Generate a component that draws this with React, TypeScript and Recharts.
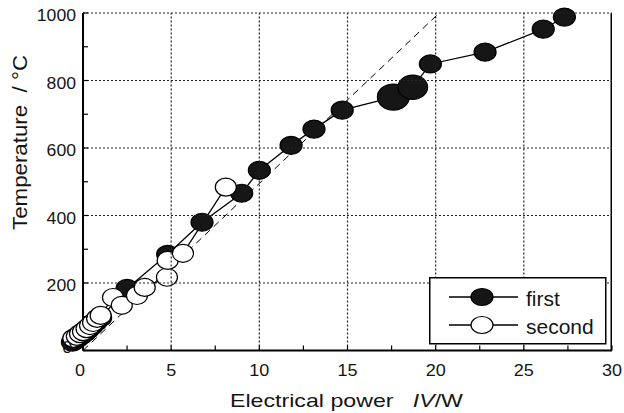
import React from 'react';
import {
  LineChart,
  Line,
  XAxis,
  YAxis,
  ReferenceDot,
  Legend,
} from 'recharts';

// ---- data ----
const firstPower = [-0.6, -0.45, -0.3, -0.1, 0.1, 0.3, 0.5, 0.75, 1.0, 2.5, 4.8, 6.75, 9.0, 10.0, 11.8, 13.1, 14.7, 17.6, 18.7, 19.7, 22.8, 26.1, 27.3];
const firstTemp = [25, 30, 36, 44, 52, 62, 72, 85, 97, 184, 285, 380, 466, 534, 608, 656, 712, 751, 780, 849, 884, 952, 988];
const secondPower = [-0.55, -0.35, -0.17, 0, 0.2, 0.4, 0.57, 0.8, 1.0, 1.7, 2.2, 3.06, 3.5, 4.76, 4.8, 5.67, 8.1];
const secondTemp = [36, 42, 50, 56, 65, 74, 83, 95, 104, 157, 134, 163, 187, 217, 267, 288, 484];
const fitPower = [0, 20.2];
const fitTemp = [0, 1000];
const seriesNames = ['first', 'second'];

const xTicks = [0, 2.5, 5, 7.5, 10, 12.5, 15, 17.5, 20, 22.5, 25, 27.5, 30];
const yTicks = [0, 100, 200, 300, 400, 500, 600, 700, 800, 900, 1000];
const xRange = [0, 30];
const yRange = [0, 1000];
const gridX = [5, 10, 15, 20, 25];
const gridY = [200, 400, 600, 800, 1000];

// marker enlargement (styling) keyed by power value
const enlarged: Record<string, number> = { '17.6': 1.45, '18.7': 1.35 };

const firstData = firstPower.map((x, i) => ({ x, y: firstTemp[i] }));
const secondData = secondPower.map((x, i) => ({ x, y: secondTemp[i] }));
const fitData = fitPower.map((x, i) => ({ x, y: fitTemp[i] }));
const rightFrame = yRange.map((y) => ({ x: xRange[1], y }));

// chart geometry (layout, not data)
const CHART_W = 624;
const CHART_H = 413;
const MARGIN = { top: 13, right: 12, bottom: 22.5, left: 23 };
const Y_AXIS_W = 60;
const X_AXIS_H = 40;
const PLOT_W = CHART_W - MARGIN.left - MARGIN.right - Y_AXIS_W;
const PLOT_H = CHART_H - MARGIN.top - MARGIN.bottom - X_AXIS_H;

const FONT = '"Liberation Sans", Arial, Helvetica, sans-serif';
const INK = '#151515';
const GRID = { stroke: '#222', strokeWidth: 1.2, strokeDasharray: '2 2' };

const XTick = (props: any) => {
  const { x, y, payload } = props;
  const v = payload.value;
  const major = v % 5 === 0;
  const s = String(v);
  return (
    <g>
      {gridX.includes(v) && (
        <line x1={x} x2={x} y1={y} y2={y - PLOT_H} {...GRID} />
      )}
      <line x1={x} x2={x} y1={y} y2={y - 5} stroke="#000" strokeWidth={1.2} />
      {major && (
        <text
          x={x + (v === 0 ? -3 : 0)}
          y={y + 25.5}
          textAnchor="middle"
          fontSize={16}
          fontFamily={FONT}
          fill={INK}
          textLength={s.length * 10}
          lengthAdjust="spacingAndGlyphs"
        >
          {s}
        </text>
      )}
    </g>
  );
};

const YTick = (props: any) => {
  const { x, y, payload } = props;
  const v = payload.value;
  const major = v % 200 === 0;
  const s = String(v);
  return (
    <g>
      {gridY.includes(v) && (
        <line x1={x} x2={x + PLOT_W} y1={y} y2={y} {...GRID} />
      )}
      <line x1={x} x2={x + 5} y1={y} y2={y} stroke="#000" strokeWidth={1.2} />
      {major && (
        <text
          x={x - 7 - (v === 0 ? 4 : 0)}
          y={y + (v === 0 ? -3 : 2.5)}
          dy="0.36em"
          textAnchor="end"
          fontSize={16}
          fontFamily={FONT}
          fill={INK}
          textLength={s.length * 9.8}
          lengthAdjust="spacingAndGlyphs"
        >
          {s}
        </text>
      )}
    </g>
  );
};

const XTitle = (props: any) => {
  const vb = props.viewBox || { x: 83, y: 350.5, width: 529 };
  return (
    <text
      x={vb.x + vb.width / 2 - 1}
      y={vb.y + 56.5}
      textAnchor="middle"
      fontSize={19}
      fontFamily={FONT}
      fill={INK}
      textLength={233}
      lengthAdjust="spacingAndGlyphs"
      style={{ whiteSpace: 'pre' }}
    >
      {'Electrical power   '}
      <tspan fontStyle="italic">IV</tspan>
      {'/W'}
    </text>
  );
};

const YTitle = () => (
  <text
    transform="translate(27,142.5) rotate(-90)"
    textAnchor="middle"
    fontSize={21}
    fontFamily={FONT}
    fill={INK}
    textLength={175}
    lengthAdjust="spacingAndGlyphs"
    style={{ whiteSpace: 'pre' }}
  >
    {'Temperature  / °C'}
  </text>
);

const makeMarker = (filled: boolean, x: number) => (p: any) => {
  const k = enlarged[String(x)] || 1;
  const rx = (filled ? 11 : 10.5) * k;
  const ry = 9 * k;
  return (
    <ellipse
      cx={p.cx}
      cy={p.cy}
      rx={rx}
      ry={ry}
      fill={filled ? '#161616' : '#ffffff'}
      stroke="#000"
      strokeWidth={1.2}
    />
  );
};

const LegendBox = () => (
  <svg width={178} height={68} style={{ display: 'block' }}>
    <rect x={0.75} y={0.75} width={176} height={66} fill="#fff" stroke="#000" strokeWidth={1.5} />
    {seriesNames.map((name, i) => {
      const cy = 20 + i * 28;
      return (
        <g key={name}>
          <line x1={20} x2={89} y1={cy} y2={cy} stroke="#000" strokeWidth={1.3} />
          <ellipse
            cx={53}
            cy={cy}
            rx={11}
            ry={8.5}
            fill={i === 0 ? '#161616' : '#fff'}
            stroke="#000"
            strokeWidth={1.2}
          />
          <text x={97} y={cy + 8.5} fontSize={21} fontFamily={FONT} fill={INK}>
            {name}
          </text>
        </g>
      );
    })}
  </svg>
);

export default function App() {
  return (
    <div style={{ position: 'absolute', left: 0, top: 0 }}>
      <LineChart width={CHART_W} height={CHART_H} margin={MARGIN}>
        <XAxis
          type="number"
          dataKey="x"
          domain={xRange}
          allowDataOverflow
          ticks={xTicks}
          interval={0}
          tickSize={0}
          tickMargin={0}
          tickLine={false}
          tick={<XTick />}
          height={X_AXIS_H}
          axisLine={{ stroke: '#000', strokeWidth: 2 }}
          label={XTitle}
        />
        <YAxis
          type="number"
          domain={yRange}
          allowDataOverflow
          ticks={yTicks}
          interval={0}
          tickSize={0}
          tickMargin={0}
          tickLine={false}
          tick={<YTick />}
          width={Y_AXIS_W}
          axisLine={{ stroke: '#000', strokeWidth: 2 }}
          label={YTitle}
        />
        <Line
          data={rightFrame}
          dataKey="y"
          stroke="#000"
          strokeWidth={3}
          dot={false}
          activeDot={false}
          isAnimationActive={false}
          legendType="none"
        />
        <Line
          data={fitData}
          dataKey="y"
          stroke="#000"
          strokeWidth={1}
          strokeDasharray="7 5"
          dot={false}
          activeDot={false}
          isAnimationActive={false}
          legendType="none"
        />
        <Line
          data={firstData}
          dataKey="y"
          name={seriesNames[0]}
          stroke="#000"
          strokeWidth={1.3}
          dot={false}
          activeDot={false}
          isAnimationActive={false}
        />
        <Line
          data={secondData}
          dataKey="y"
          name={seriesNames[1]}
          stroke="#000"
          strokeWidth={1.3}
          dot={false}
          activeDot={false}
          isAnimationActive={false}
        />
        {firstData.map((d, i) => (
          <ReferenceDot
            key={'f' + i}
            x={d.x}
            y={d.y}
            ifOverflow="visible"
            shape={makeMarker(true, d.x)}
          />
        ))}
        {secondData.map((d, i) => (
          <ReferenceDot
            key={'s' + i}
            x={d.x}
            y={d.y}
            ifOverflow="visible"
            shape={makeMarker(false, d.x)}
          />
        ))}
        <Legend
          layout="vertical"
          align="center"
          verticalAlign="middle"
          content={() => <LegendBox />}
          wrapperStyle={{ position: 'absolute', left: 429, top: 277, width: 178, height: 68, margin: 0 }}
        />
      </LineChart>
    </div>
  );
}
